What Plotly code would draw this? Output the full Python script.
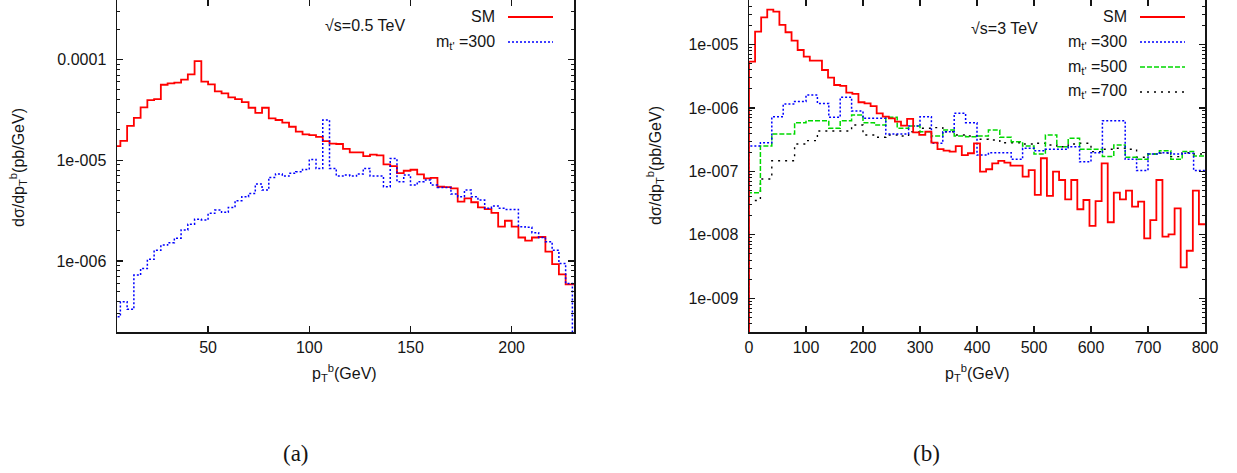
import plotly.graph_objects as go

W, H = 1237, 473

# ---------------- data: panel (a), sqrt(s)=0.5 TeV, bins of 10/3 GeV starting at 10/3 GeV
bin_w_a = 10.0 / 3.0
first_bin_a = 1
sm_a = [1.38e-5, 1.56e-5, 2.19e-5, 2.63e-5, 3.35e-5, 3.96e-5, 4.05e-5, 5.62e-5, 5.80e-5, 5.89e-5,
        6.31e-5, 7.13e-5, 9.66e-5, 6.03e-5, 5.67e-5, 4.83e-5, 4.61e-5, 4.21e-5, 4.05e-5, 3.78e-5,
        3.32e-5, 2.96e-5, 3.32e-5, 2.61e-5, 2.51e-5, 2.36e-5, 2.15e-5, 1.92e-5, 1.81e-5, 1.78e-5,
        1.71e-5, 1.55e-5, 1.46e-5, 1.45e-5, 1.30e-5, 1.20e-5, 1.20e-5, 1.10e-5, 1.14e-5, 1.12e-5,
        9.1e-6, 8.76e-6, 7.46e-6, 7.87e-6, 8.05e-6, 7.24e-6, 6.61e-6, 6.69e-6, 5.46e-6, 5.40e-6,
        5.26e-6, 3.88e-6, 4.18e-6, 3.83e-6, 3.40e-6, 3.27e-6, 3.01e-6, 2.19e-6, 2.51e-6, 2.19e-6,
        1.71e-6, 1.59e-6, 1.71e-6, 1.73e-6, 1.24e-6, 9.3e-7, 7.36e-7, 5.85e-7]
m300_a = [2.8e-7, 3.94e-7, 3.31e-7, 7.24e-7, 8.44e-7, 1.04e-6, 1.28e-6, 1.44e-6, 1.52e-6, 1.68e-6,
          2.03e-6, 2.32e-6, 2.59e-6, 2.55e-6, 2.97e-6, 3.20e-6, 3.04e-6, 3.40e-6, 3.97e-6, 4.35e-6,
          4.69e-6, 5.80e-6, 5.06e-6, 6.76e-6, 7.30e-6, 6.97e-6, 7.41e-6, 7.69e-6, 8.11e-6, 1.02e-5,
          8.30e-6, 2.51e-5, 8.30e-6, 6.97e-6, 7.13e-6, 6.97e-6, 7.30e-6, 8.30e-6, 6.97e-6, 6.97e-6,
          5.46e-6, 1.04e-5, 6.12e-6, 7.13e-6, 5.67e-6, 6.12e-6, 6.36e-6, 5.67e-6, 5.38e-6, 5.38e-6,
          4.62e-6, 4.35e-6, 5.06e-6, 4.35e-6, 4.03e-6, 3.33e-6, 3.51e-6, 3.33e-6, 3.25e-6, 3.25e-6,
          2.19e-6, 2.16e-6, 1.91e-6, 1.71e-6, 1.55e-6, 1.28e-6, 9.46e-7, 5.98e-7]

# ---------------- data: panel (b), sqrt(s)=3 TeV
bin_w_sm_b = 32.0 / 3.0
bin_w_tp_b = 20.0
sm_b = [5.36e-6, 1.59e-5, 2.68e-5, 3.54e-5, 3.29e-5, 2.03e-5, 1.56e-5, 1.15e-5, 8.19e-6, 6.43e-6,
        5.56e-6, 5.56e-6, 3.96e-6, 3.0e-6, 2.30e-6, 2.22e-6, 1.74e-6, 1.66e-6, 1.23e-6, 1.18e-6,
        1.07e-6, 8.22e-7, 7.29e-7, 6.86e-7, 6.08e-7, 5.26e-7, 6.70e-7, 4.13e-7, 3.75e-7, 4.23e-7,
        2.84e-7, 2.25e-7, 2.12e-7, 2.05e-7, 2.51e-7, 1.81e-7, 1.93e-7, 2.77e-7, 9.9e-8, 1.08e-7,
        1.34e-7, 1.47e-7, 1.37e-7, 1.23e-7, 1.23e-7, 8.25e-8, 1.05e-7, 4.25e-8, 1.61e-7, 4.10e-8,
        9.9e-8, 7.32e-8, 3.63e-8, 7.32e-8, 2.53e-8, 3.54e-8, 1.38e-8, 3.41e-8, 1.34e-7, 1.58e-8,
        4.62e-8, 3.63e-8, 4.96e-8, 2.78e-8, 3.33e-8, 8.83e-9, 1.71e-8, 7.32e-8, 9.35e-9, 1.02e-8,
        2.62e-8, 3.08e-9, 5.62e-9, 4.96e-8, 1.47e-8]
m300_b = [2.51e-7, 2.83e-7, 7.28e-7, 1.15e-6, 1.26e-6, 1.60e-6, 1.18e-6, 7.13e-7, 1.47e-6, 8.95e-7,
          6.87e-7, 6.87e-7, 3.88e-7, 3.88e-7, 5.19e-7, 7.28e-7, 2.77e-7, 4.22e-7, 8.24e-7, 5.86e-7,
          1.81e-7, 1.97e-7, 1.97e-7, 1.55e-7, 2.31e-7, 2.12e-7, 2.23e-7, 2.23e-7, 2.45e-7, 1.42e-7,
          1.97e-7, 6.3e-7, 6.3e-7, 1.55e-7, 1.03e-7, 1.88e-7, 1.97e-7, 1.88e-7, 1.94e-7, 1.03e-7]
m500_b = [4.62e-8, 2.51e-7, 3.88e-7, 3.88e-7, 5.86e-7, 6.30e-7, 6.30e-7, 4.78e-7, 6.30e-7, 7.74e-7,
          5.86e-7, 5.39e-7, 7.13e-7, 4.78e-7, 5.19e-7, 4.22e-7, 3.61e-7, 4.49e-7, 3.61e-7, 3.52e-7,
          3.61e-7, 4.49e-7, 3.45e-7, 2.94e-7, 2.51e-7, 1.88e-7, 3.75e-7, 2.45e-7, 3.32e-7, 2.23e-7,
          2.23e-7, 1.71e-7, 2.61e-7, 1.67e-7, 1.55e-7, 1.88e-7, 2.12e-7, 1.55e-7, 2.05e-7, 1.75e-7]
m700_b = [3.48e-8, 7.59e-8, 1.47e-7, 1.47e-7, 2.70e-7, 3.05e-7, 4.33e-7, 4.33e-7, 4.33e-7, 5.39e-7,
          3.75e-7, 3.45e-7, 3.75e-7, 3.61e-7, 4.22e-7, 4.78e-7, 4.9e-7, 4.22e-7, 3.75e-7, 3.61e-7,
          3.21e-7, 3.13e-7, 2.83e-7, 2.83e-7, 2.70e-7, 2.77e-7, 2.61e-7, 2.45e-7, 2.70e-7, 2.77e-7,
          2.05e-7, 2.23e-7, 2.31e-7, 2.23e-7, 1.67e-7, 1.88e-7, 1.94e-7, 1.71e-7, 1.97e-7, 1.88e-7]

x_ticks_a = [50, 100, 150, 200]
x_ticks_b = [0, 100, 200, 300, 400, 500, 600, 700, 800]
y_ticks_a = [1e-6, 1e-5, 1e-4]
y_text_a = ["1e-006", "1e-005", "0.0001"]
y_ticks_b = [1e-9, 1e-8, 1e-7, 1e-6, 1e-5]
y_text_b = ["1e-009", "1e-008", "1e-007", "1e-006", "1e-005"]

XR_A = [5, 230.8]
XR_B = [0, 800]
YR_A = [-6.705, -3.409]
YR_B = [-9.531, -4.299]
FLOOR = 1e-12


def step_xy(values, width, first=0, lead_floor=False, tail_floor=False, tail_to=None):
    xs = [(first + i) * width for i in range(len(values))]
    ys = list(values)
    end = (first + len(values)) * width
    xs.append(end)
    ys.append(values[-1])
    if lead_floor:
        xs.insert(0, xs[0])
        ys.insert(0, FLOOR)
    if tail_floor:
        xs.append(end)
        ys.append(FLOOR)
    if tail_to is not None:
        xs.append(tail_to)
        ys.append(values[-1])
    return xs, ys


RED = dict(color="#ff0000", width=1.8)
BLUE = dict(color="#0000ff", width=1.5, dash="2px,2px")
GREEN = dict(color="#00d800", width=1.5, dash="5px,2px")
BLACK = dict(color="#000000", width=1.4, dash="2px,5px")

fig = go.Figure()

x, y = step_xy(sm_a, bin_w_a, first_bin_a, tail_to=XR_A[1])
fig.add_trace(go.Scatter(x=x, y=y, mode="lines", line=dict(RED, shape="hv"), xaxis="x", yaxis="y", showlegend=False))
x, y = step_xy(m300_a, bin_w_a, first_bin_a, tail_floor=True)
fig.add_trace(go.Scatter(x=x, y=y, mode="lines", line=dict(BLUE, shape="hv"), xaxis="x", yaxis="y", showlegend=False))

for vals, w, ln in [(m700_b, bin_w_tp_b, BLACK), (m500_b, bin_w_tp_b, GREEN),
                    (m300_b, bin_w_tp_b, BLUE), (sm_b, bin_w_sm_b, RED)]:
    x, y = step_xy(vals, w, 0, lead_floor=True)
    fig.add_trace(go.Scatter(x=x, y=y, mode="lines", line=dict(ln, shape="hv"), xaxis="x2", yaxis="y2", showlegend=False))


def minor_vals(lo, hi):
    out = []
    for e in range(lo, hi + 1):
        for m in range(2, 10):
            out.append(m * 10.0 ** e)
    return out


AX = dict(showline=True, linecolor="#151515", linewidth=1.5, mirror="allticks", ticks="inside",
          ticklen=6, tickwidth=1.2, tickcolor="#151515", showgrid=False, zeroline=False,
          automargin=False,
          tickfont=dict(family="Liberation Sans, Arial, sans-serif", size=16, color="#151515"))

fig.update_layout(
    template="none",
    width=W, height=H, autosize=False, margin=dict(l=0, r=0, t=0, b=0, pad=0, autoexpand=False),
    paper_bgcolor="white", plot_bgcolor="white", showlegend=False,
    xaxis=dict(AX, domain=[117 / W, 574 / W], range=XR_A, tickmode="array", tickvals=x_ticks_a, anchor="y"),
    yaxis=dict(AX, domain=[1 - 332 / H, 1], type="log", range=YR_A, tickmode="array",
               tickvals=y_ticks_a, ticktext=y_text_a, anchor="x", ticklabelstandoff=6,
               minor=dict(tickmode="array", tickvals=minor_vals(-7, -4), ticks="inside", ticklen=3,
                          tickwidth=1, tickcolor="#151515")),
    xaxis2=dict(AX, domain=[749 / W, 1205 / W], range=XR_B, tickmode="array", tickvals=x_ticks_b, anchor="y2"),
    yaxis2=dict(AX, domain=[1 - 332 / H, 1], type="log", range=YR_B, tickmode="array",
                tickvals=y_ticks_b, ticktext=y_text_b, anchor="x2", ticklabelstandoff=6,
                minor=dict(tickmode="array", tickvals=minor_vals(-10, -5), ticks="inside", ticklen=3,
                           tickwidth=1, tickcolor="#151515")),
)

SANS = dict(family="Liberation Sans, Arial, sans-serif", size=16, color="#151515")
SERIF = dict(family="Liberation Serif, DejaVu Serif, serif", size=23, color="#151515")


def px(xp):
    return xp / W


def py(yp):
    return 1 - yp / H


ann = []
ytitle = "dσ/dp<sub>T</sub><sup>b</sup>(pb/GeV)"
xtitle = "p<sub>T</sub><sup>b</sup>(GeV)"
ann.append(dict(x=px(18), y=py(168), text=ytitle, textangle=-90, font=SANS))
ann.append(dict(x=px(655), y=py(166), text=ytitle, textangle=-90, font=SANS))
ann.append(dict(x=px(344), y=py(373), text=xtitle, font=SANS))
ann.append(dict(x=px(977), y=py(373), text=xtitle, font=SANS))
ann.append(dict(x=px(296), y=py(453), text="(a)", font=SERIF))
ann.append(dict(x=px(926), y=py(453), text="(b)", font=SERIF))
ann.append(dict(x=px(323), y=py(25), text="√s=0.5 TeV", xanchor="left", font=SANS))
ann.append(dict(x=px(969), y=py(28), text="√s=3 TeV", xanchor="left", font=SANS))

legend_a = [("SM", RED), ("m<sub>t'</sub> =300", BLUE)]
legend_b = [("SM", RED), ("m<sub>t'</sub> =300", BLUE), ("m<sub>t'</sub> =500", GREEN), ("m<sub>t'</sub> =700", BLACK)]
shapes = []
for items, xr, x0, x1 in [(legend_a, 497, 508, 553), (legend_b, 1129, 1140, 1185)]:
    for i, (label, ln) in enumerate(items):
        yy = 17 + 25 * i
        ann.append(dict(x=px(xr), y=py(yy), text=label, xanchor="right", font=SANS))
        shapes.append(dict(type="line", xref="paper", yref="paper", x0=px(x0), x1=px(x1),
                           y0=py(yy), y1=py(yy), line=ln))

for a in ann:
    a.update(xref="paper", yref="paper", showarrow=False)
    a.setdefault("xanchor", "center")
    a.setdefault("yanchor", "middle")

fig.update_layout(annotations=ann, shapes=shapes)
fig.write_html("out.html",
               config={"responsive": False, "displayModeBar": False, "staticPlot": True},
               post_script="document.body.style.margin='0px';document.body.style.overflow='hidden';")
